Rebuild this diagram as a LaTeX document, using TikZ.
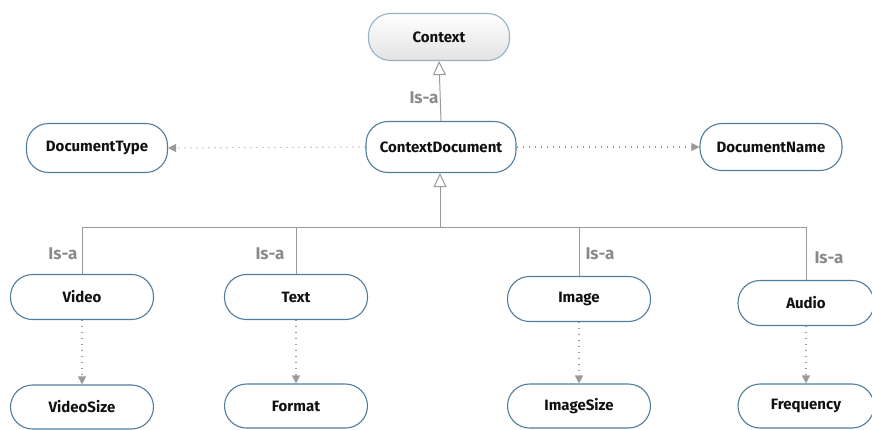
\documentclass[tikz,border=0pt]{standalone}
\usepackage{fontspec}
\setmainfont{Fira Sans}
\usetikzlibrary{arrows.meta}
\definecolor{bordc}{HTML}{4F7D9E}
\definecolor{linec}{HTML}{9A9A9A}
\definecolor{isac}{HTML}{8A8A8A}
\definecolor{txtc}{HTML}{111111}
\tikzset{
  box/.style={draw=bordc, line width=1.1pt, fill=white, rounded corners=22pt,
    minimum width=143pt, minimum height=45pt, inner sep=0pt,
    font=\fontsize{15}{17}\selectfont\bfseries, text=txtc},
  topbox/.style={box, draw=bordc!60, top color=white, bottom color=gray!22},
  conn/.style={draw=linec, line width=1pt},
  isatip/.style={conn, -{Triangle[open, width=13pt, length=14pt, fill=white]}},
  dep/.style={draw=linec, line width=1.1pt, dash pattern=on 1.2pt off 4.8pt,
    -{Triangle[width=8pt, length=8pt, fill=linec]}, shorten >=0pt},
  isa/.style={font=\fontsize{17}{19}\selectfont\bfseries, text=isac, inner sep=0pt}
}
\begin{document}
\begin{tikzpicture}[x=1pt,y=-1pt]
\useasboundingbox (0,0) rectangle (872,429);
% top
\node[topbox, minimum width=141pt, minimum height=47pt] (ctx) at (439,37) {Context};
\node[box, minimum width=150pt, minimum height=51pt] (cd) at (441,147) {ContextDocument};
\node[box, minimum width=141pt, minimum height=49pt] (dt) at (97,148) {DocumentType};
\node[box, minimum width=142pt, minimum height=47pt] (dn) at (771,147) {DocumentName};
% children
\node[box] (video) at (82,297) {Video};
\node[box] (text) at (296,297) {Text};
\node[box] (image) at (579,299) {Image};
\node[box, minimum width=136pt] (audio) at (806,303) {Audio};
\node[box, minimum height=44pt] (vsize) at (82,407) {VideoSize};
\node[box, minimum height=44pt] (format) at (296,406) {Format};
\node[box, minimum height=44pt] (isize) at (579,406) {ImageSize};
\node[box, minimum width=136pt, minimum height=44pt] (freq) at (806,406) {Frequency};
% Is-a top
\draw[isatip] (cd.north) -- (ctx.south);
\node[isa] (isatop) at (424,98) {Is-a};
% dependencies
\draw[dep] (cd.west) -- (dt.east);
\draw[dep] (cd.east) -- (dn.west);
% bus
\coordinate (bus) at (440,227);
\draw[isatip] (bus) -- (cd.south -| bus);
\draw[conn] (video.north) -- (video.north |- bus) -- (audio.north |- bus) -- (audio.north);
\draw[conn] (text.north) -- (text.north |- bus);
\draw[conn] (image.north) -- (image.north |- bus);
\node[isa] (isav) at (63,254) {Is-a};
\node[isa] (isat) at (270,254) {Is-a};
\node[isa] (isai) at (600,254) {Is-a};
\node[isa] (isaau) at (829,258) {Is-a};
% child dependencies
\draw[dep] (video.south) -- (vsize.north);
\draw[dep] (text.south) -- (format.north);
\draw[dep] (image.south) -- (isize.north);
\draw[dep] (audio.south) -- (freq.north);
\end{tikzpicture}
\end{document}
